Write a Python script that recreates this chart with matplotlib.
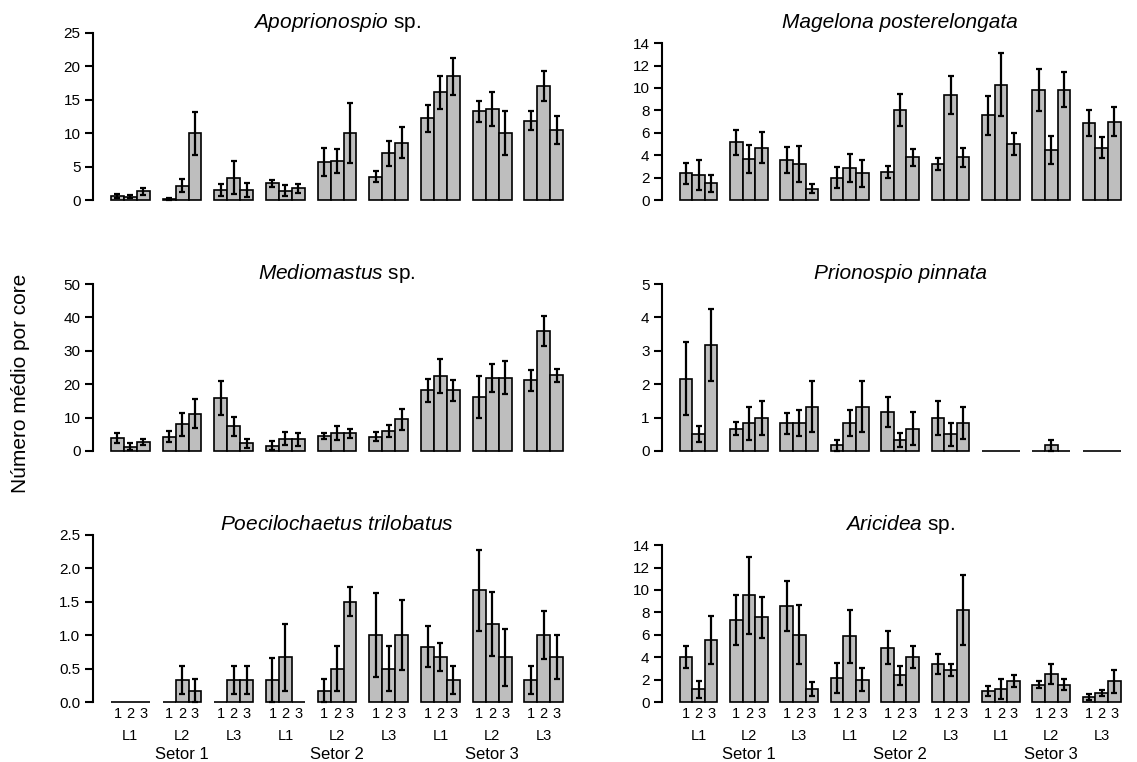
import matplotlib
matplotlib.use('Agg')
import matplotlib.pyplot as plt
from matplotlib.transforms import blended_transform_factory

plt.rcParams['font.family'] = ['Liberation Sans', 'DejaVu Sans']
plt.rcParams['mathtext.fontset'] = 'custom'
plt.rcParams['mathtext.it'] = 'Liberation Sans:italic'
plt.rcParams['mathtext.rm'] = 'Liberation Sans'

setores = ['Setor 1', 'Setor 2', 'Setor 3']
linhas = ['L1', 'L2', 'L3']
replicas = ['1', '2', '3']

# 27 values per species: Setor 1 (L1 1,2,3; L2 1,2,3; L3 1,2,3), Setor 2 ..., Setor 3 ...
apo_mean = [0.6, 0.5, 1.3, 0.17, 2.15, 10.0, 1.5, 3.35, 1.5,
            2.5, 1.4, 1.75, 5.65, 5.85, 10.0, 3.5, 7.0, 8.6,
            12.25, 16.1, 18.5, 13.25, 13.6, 10.0, 11.9, 17.0, 10.5]
apo_se = [0.35, 0.25, 0.55, 0.1, 1.0, 3.2, 0.9, 2.5, 1.0,
          0.55, 0.85, 0.65, 2.1, 1.85, 4.5, 0.85, 1.9, 2.35,
          2.0, 2.45, 2.8, 1.6, 2.5, 3.25, 1.45, 2.25, 2.1]

mag_mean = [2.38, 2.23, 1.5, 5.15, 3.7, 4.68, 3.57, 3.2, 1.0,
            2.0, 2.83, 2.38, 2.47, 8.04, 3.8, 3.19, 9.38, 3.8,
            7.54, 10.3, 5.0, 9.83, 4.47, 9.83, 6.85, 4.68, 7.0]
mag_se = [0.95, 1.3, 0.75, 1.1, 1.25, 1.4, 1.15, 1.6, 0.4,
          0.9, 1.25, 1.2, 0.55, 1.4, 0.73, 0.52, 1.7, 0.82,
          1.75, 2.85, 1.0, 1.85, 1.25, 1.55, 1.15, 0.93, 1.27]

med_mean = [4.0, 1.3, 2.8, 4.2, 8.0, 11.2, 15.9, 7.45, 2.3,
            1.6, 3.6, 3.5, 4.5, 5.25, 5.25, 4.3, 6.0, 9.45,
            18.2, 22.4, 18.2, 16.2, 21.9, 21.9, 21.2, 35.9, 22.7]
med_se = [1.5, 1.0, 0.9, 1.65, 3.5, 4.4, 5.0, 2.85, 1.3,
          1.25, 1.95, 2.0, 0.85, 2.1, 1.25, 1.4, 1.85, 3.25,
          3.5, 5.0, 3.1, 6.2, 4.1, 4.9, 3.1, 4.5, 2.0]

pri_mean = [2.17, 0.5, 3.17, 0.67, 0.83, 1.0, 0.83, 0.83, 1.33,
            0.17, 0.83, 1.33, 1.17, 0.33, 0.67, 1.0, 0.5, 0.83,
            0, 0, 0, 0, 0.17, 0, 0, 0, 0]
pri_se = [1.08, 0.24, 1.08, 0.19, 0.49, 0.51, 0.31, 0.39, 0.76,
          0.16, 0.39, 0.76, 0.46, 0.21, 0.49, 0.51, 0.35, 0.48,
          0, 0, 0, 0, 0.16, 0, 0, 0, 0]

poe_mean = [0, 0, 0, 0, 0.33, 0.17, 0, 0.33, 0.33,
            0.33, 0.67, 0, 0.17, 0.5, 1.5, 1.0, 0.5, 1.0,
            0.83, 0.67, 0.33, 1.67, 1.17, 0.67, 0.33, 1.0, 0.67]
poe_se = [0, 0, 0, 0, 0.21, 0.17, 0, 0.21, 0.21,
          0.33, 0.5, 0, 0.17, 0.34, 0.22, 0.63, 0.34, 0.52,
          0.31, 0.21, 0.21, 0.61, 0.48, 0.43, 0.21, 0.36, 0.33]

ari_mean = [4.02, 1.13, 5.5, 7.36, 9.53, 7.54, 8.55, 6.0, 1.13,
            2.14, 5.87, 2.0, 4.86, 2.38, 4.02, 3.37, 2.83, 8.19,
            0.98, 1.13, 1.85, 1.55, 2.53, 1.55, 0.45, 0.8, 1.85]
ari_se = [1.0, 0.77, 2.15, 2.23, 3.44, 1.83, 2.25, 2.65, 0.63,
          1.34, 2.38, 1.0, 1.45, 0.85, 1.0, 0.88, 0.52, 3.13,
          0.45, 0.9, 0.55, 0.33, 0.9, 0.5, 0.27, 0.3, 1.04]

titles = [r'$\it{Apoprionospio}$ sp.', 'Magelona posterelongata',
          r'$\it{Mediomastus}$ sp.', 'Prionospio pinnata',
          r'$\it{Poecilochaetus\ trilobatus}$', r'$\it{Aricidea}$ sp.']
italic_full = [False, True, False, True, False, False]
means = [apo_mean, mag_mean, med_mean, pri_mean, poe_mean, ari_mean]
ses = [apo_se, mag_se, med_se, pri_se, poe_se, ari_se]
yticks = [[0, 5, 10, 15, 20, 25], [0, 2, 4, 6, 8, 10, 12, 14],
          [0, 10, 20, 30, 40, 50], [0, 1, 2, 3, 4, 5],
          [0.0, 0.5, 1.0, 1.5, 2.0, 2.5], [0, 2, 4, 6, 8, 10, 12, 14]]
ytlabels = [None, None, None, None, ['0.0', '0.5', '1.0', '1.5', '2.0', '2.5'], None]
ylims = [25, 14.9, 50, 5, 2.5, 14.9]

W, H = 1137, 762
fig = plt.figure(figsize=(W / 100, H / 100), dpi=100)

# pixel geometry: (spine x, px per unit) per column; bottom pixel per row
cols = [(92.9, 12.92), (662.0, 12.6)]
rows = [200, 451, 702]
plot_h = 167
xl = (-0.4, 37.4)

# bar centres (R barplot, space=c(0,1))
xpos = []
for g in range(9):
    for i in range(3):
        xpos.append(4 * g + i + 1.5)

for k in range(6):
    r, c = divmod(k, 2)
    sx, upx = cols[c]
    wpx = (xl[1] - xl[0]) * upx
    bpx = rows[r]
    ax = fig.add_axes([sx / W, (H - bpx) / H, wpx / W, plot_h / H])
    ax.set_xlim(*xl)
    ax.set_ylim(0, ylims[k])
    m = means[k]
    s = ses[k]
    ax.bar(xpos, m, width=1.0, color='#bebebe', edgecolor='black',
           linewidth=1.2, clip_on=False, zorder=2)
    ex = [x for x, e in zip(xpos, s) if e > 0]
    ey = [v for v, e in zip(m, s) if e > 0]
    ee = [e for e in s if e > 0]
    ax.errorbar(ex, ey, yerr=ee, fmt='none', ecolor='black', elinewidth=1.6,
                capsize=2.4, capthick=1.6, zorder=3, clip_on=False)
    for sp in ['top', 'right', 'bottom']:
        ax.spines[sp].set_visible(False)
    ax.spines['left'].set_linewidth(1.5)
    ax.spines['left'].set_bounds(yticks[k][0], yticks[k][-1])
    ax.set_yticks(yticks[k])
    if ytlabels[k] is not None:
        ax.set_yticklabels(ytlabels[k])
    ax.tick_params(axis='y', length=6, width=1.5, labelsize=11, pad=3)
    ax.set_xticks([])
    ax.patch.set_visible(False)
    ax.annotate(titles[k], xy=(0.5, 1.0), xycoords='axes fraction',
                xytext=(0, 3.5), textcoords='offset points',
                ha='center', va='baseline', fontsize=15,
                fontstyle='italic' if italic_full[k] else 'normal')
    if r == 2:
        tr = blended_transform_factory(ax.transData, ax.transAxes)
        for x, lab in zip(xpos, replicas * 9):
            ax.annotate(lab, xy=(x, 0), xycoords=tr, xytext=(0, -8.5),
                        textcoords='offset points', ha='center', va='center',
                        fontsize=10.5)
        for g in range(9):
            ax.annotate(linhas[g % 3], xy=(4 * g + 2.5, 0), xycoords=tr,
                        xytext=(0, -24.5), textcoords='offset points',
                        ha='center', va='center', fontsize=10.5)
        for j, st in enumerate(setores):
            ax.annotate(st, xy=(4 * (3 * j + 1) + 2.5, 0), xycoords=tr,
                        xytext=(0, -37.5), textcoords='offset points',
                        ha='center', va='center', fontsize=12)

fig.text(21 / W, 1 - 383 / H, 'Número médio por core', rotation=90,
         ha='center', va='center', fontsize=15)

fig.savefig('out.png', dpi=100)
